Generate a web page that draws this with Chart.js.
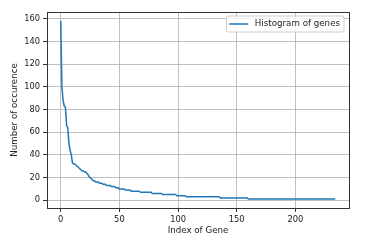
<!DOCTYPE html>
<html><head><meta charset="utf-8">
<script src="https://cdn.jsdelivr.net/npm/chart.js@4/dist/chart.umd.min.js"></script>
<style>html,body{margin:0;padding:0;background:#fff;overflow:hidden}</style>
</head><body>
<canvas id="c" width="385" height="241"></canvas>
<script>
const geneCounts = [
  158,100,88,83,82,66,64,50,44,40,
  33,32,32,31,30,29,28,27,26,26,
  25,25,24,23,21,20,19,18,17,17,
  16,16,16,15,15,15,14,14,14,13,
  13,13,13,12,12,12,12,11,11,11,
  10,10,10,10,10,9,9,9,9,9,
  8,8,8,8,8,8,8,8,7,7,
  7,7,7,7,7,7,7,7,6,6,
  6,6,6,6,6,6,6,5,5,5,
  5,5,5,5,5,5,5,5,5,4,
  4,4,4,4,4,4,4,3,3,3,
  3,3,3,3,3,3,3,3,3,3,
  3,3,3,3,3,3,3,3,3,3,
  3,3,3,3,3,3,2,2,2,2,
  2,2,2,2,2,2,2,2,2,2,
  2,2,2,2,2,2,2,2,2,2,
  1,1,1,1,1,1,1,1,1,1,
  1,1,1,1,1,1,1,1,1,1,
  1,1,1,1,1,1,1,1,1,1,
  1,1,1,1,1,1,1,1,1,1,
  1,1,1,1,1,1,1,1,1,1,
  1,1,1,1,1,1,1,1,1,1,
  1,1,1,1,1,1,1,1,1,1,
  1,1,1,1,1
];
const xTicks = [0, 50, 100, 150, 200];
const yTicks = [0, 20, 40, 60, 80, 100, 120, 140, 160];
const seriesLabel = 'Histogram of genes';
const xTitle = 'Index of Gene';
const yTitle = 'Number of occurence';

const FONT = '"DejaVu Sans", sans-serif';
const TXT = '#222';
const TICK_SIZE = 8.3;
const LABEL_SIZE = 8.7;

const points = geneCounts.map((v, i) => ({ x: i, y: v }));

const framePlugin = {
  id: 'frameLegend',
  afterDatasetsDraw(chart) {
    const { ctx, chartArea: ca } = chart;
    ctx.save();
    ctx.strokeStyle = '#333';
    ctx.lineWidth = 1;
    ctx.strokeRect(Math.round(ca.left) + 0.5, Math.round(ca.top) + 0.5,
                   Math.round(ca.right - ca.left), Math.round(ca.bottom - ca.top));
    ctx.font = LABEL_SIZE + 'px ' + FONT;
    const tw = ctx.measureText(seriesLabel).width;
    const padL = 2.7, handle = 19, gap = 6.6, padR = 4;
    const w = padL + handle + gap + tw + padR;
    const h = 16;
    const right = ca.right - 5;
    const x = right - w, y = ca.top + 4;
    const r = 2;
    ctx.beginPath();
    ctx.moveTo(x + r, y);
    ctx.lineTo(x + w - r, y); ctx.quadraticCurveTo(x + w, y, x + w, y + r);
    ctx.lineTo(x + w, y + h - r); ctx.quadraticCurveTo(x + w, y + h, x + w - r, y + h);
    ctx.lineTo(x + r, y + h); ctx.quadraticCurveTo(x, y + h, x, y + h - r);
    ctx.lineTo(x, y + r); ctx.quadraticCurveTo(x, y, x + r, y);
    ctx.closePath();
    ctx.fillStyle = 'rgba(255,255,255,0.8)';
    ctx.fill();
    ctx.strokeStyle = '#cccccc';
    ctx.lineWidth = 1;
    ctx.stroke();
    ctx.strokeStyle = chart.data.datasets[0].borderColor;
    ctx.lineWidth = 1.5;
    ctx.beginPath();
    ctx.moveTo(x + padL, y + h / 2);
    ctx.lineTo(x + padL + handle, y + h / 2);
    ctx.stroke();
    ctx.fillStyle = TXT;
    ctx.textBaseline = 'middle';
    ctx.textAlign = 'left';
    ctx.fillText(seriesLabel, x + padL + handle + gap, y + h / 2);
    ctx.restore();
  }
};

new Chart(document.getElementById('c'), {
  type: 'line',
  data: {
    datasets: [{
      label: seriesLabel,
      data: points,
      borderColor: '#1f77b4',
      borderWidth: 1.5,
      pointRadius: 0,
      fill: false,
      tension: 0
    }]
  },
  options: {
    responsive: false,
    animation: false,
    devicePixelRatio: 1,
    layout: { padding: { left: 0, top: 12, right: 36, bottom: 0 } },
    plugins: { legend: { display: false }, tooltip: { enabled: false } },
    scales: {
      x: {
        type: 'linear',
        min: -11.7,
        max: 245.7,
        afterBuildTicks: s => { s.ticks = xTicks.map(v => ({ value: v })); },
        afterFit: s => { s.height = 33; },
        grid: { color: '#b0b0b0', lineWidth: 0.8, tickLength: 4, tickColor: '#333', tickWidth: 1 },
        border: { display: false },
        ticks: { color: TXT, font: { family: FONT, size: TICK_SIZE }, padding: 3, maxRotation: 0, autoSkip: false },
        title: { display: true, text: xTitle, color: TXT, font: { family: FONT, size: LABEL_SIZE }, padding: { top: 0, bottom: 5 } }
      },
      y: {
        type: 'linear',
        min: -6.85,
        max: 165.85,
        afterBuildTicks: s => { s.ticks = yTicks.map(v => ({ value: v })); },
        afterFit: s => { s.width = 47; },
        grid: { color: '#b0b0b0', lineWidth: 0.8, tickLength: 4, tickColor: '#333', tickWidth: 1 },
        border: { display: false },
        ticks: { color: TXT, font: { family: FONT, size: TICK_SIZE }, padding: 3, autoSkip: false },
        title: { display: true, text: yTitle, color: TXT, font: { family: FONT, size: LABEL_SIZE }, padding: { top: 10, bottom: 0 } }
      }
    }
  },
  plugins: [framePlugin]
});
</script>
</body></html>
